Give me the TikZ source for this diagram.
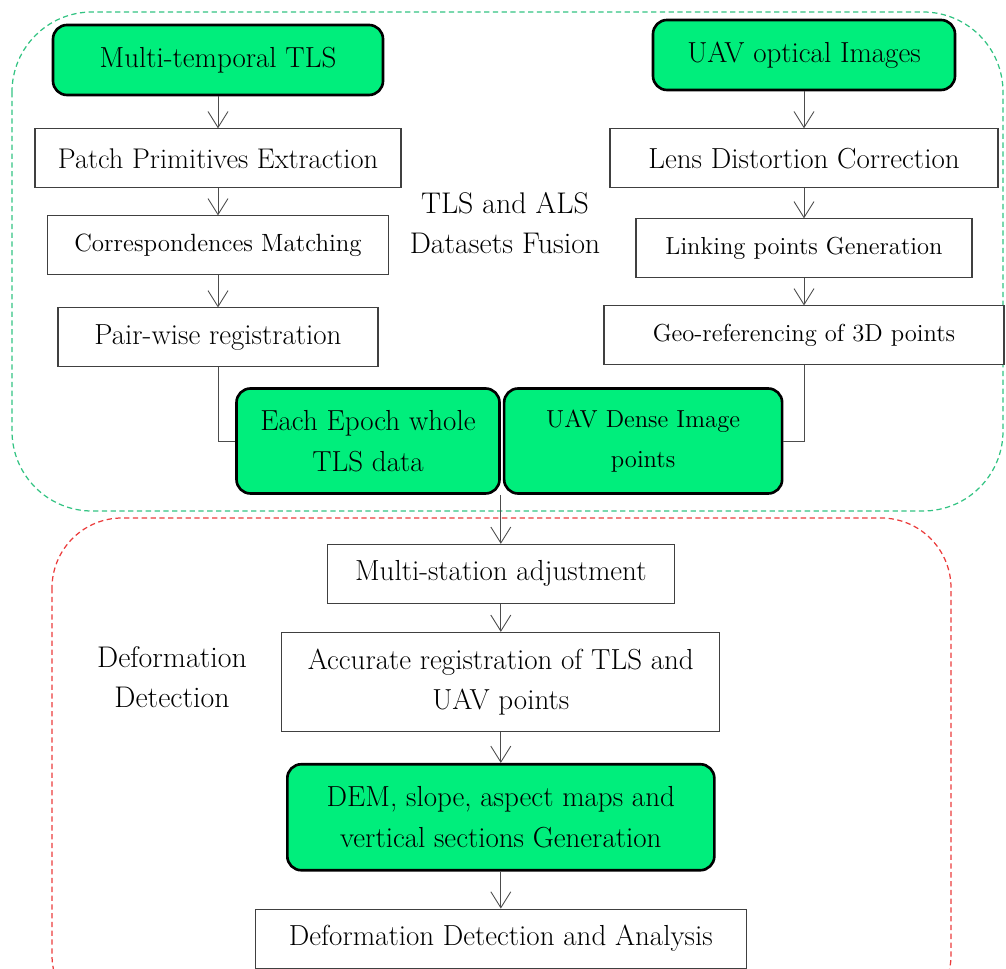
\documentclass[tikz,border=0pt]{standalone}
\usepackage{tikz}
\usetikzlibrary{arrows.meta, positioning, calc}
\definecolor{boxgreen}{RGB}{0,238,124}
\definecolor{fusegreen}{RGB}{50,195,130}
\definecolor{detred}{RGB}{235,60,60}
\tikzset{
  srcbox/.style={rectangle, draw, rounded corners=0.28cm, line width=1.5pt,
    fill=boxgreen, align=center, font=\fontsize{16.5}{23}\selectfont},
  procbox/.style={rectangle, draw=black!75, line width=0.6pt, fill=white,
    minimum height=1.18cm, align=center, font=\fontsize{16.5}{23}\selectfont},
  smallproc/.style={procbox, font=\fontsize{14.2}{23}\selectfont},
  region/.style={dash pattern=on 3pt off 2pt, line width=0.7pt},
  arr/.style={-{Straight Barb[length=3.2mm, width=4mm]}, draw=black!70, line width=0.5pt},
  link/.style={draw=black!70, line width=0.5pt},
}
\begin{document}
\begin{tikzpicture}[node distance=0.6cm]
  \clip (0,0) rectangle (20.12,-19.38);
  \draw[region, fusegreen, rounded corners=1.6cm] (0.24,-0.24) rectangle (20.06,-10.22);
  \draw[region, detred, rounded corners=1.4cm] (1.04,-10.36) rectangle (19.02,-20.5);

  % TLS branch
  \node[srcbox, minimum width=6.6cm, minimum height=1.4cm] (mtls) at (4.36,-1.2) {Multi-temporal TLS};
  \node[procbox, minimum width=7.32cm, below=0.64cm of mtls, font=\fontsize{16.2}{23}\selectfont] (patch) {Patch Primitives Extraction};
  \node[smallproc, minimum width=6.82cm, below=0.54cm of patch] (corr) {Correspondences Matching};
  \node[procbox, minimum width=6.4cm, below=0.64cm of corr] (pair) {Pair-wise registration};

  % UAV branch
  \node[srcbox, minimum width=6.04cm, minimum height=1.4cm] (uav) at (16.08,-1.1) {UAV optical Images};
  \node[procbox, minimum width=7.76cm, below=0.74cm of uav] (lens) {Lens Distortion Correction};
  \node[smallproc, minimum width=6.72cm, below=0.6cm of lens, font=\fontsize{14}{23}\selectfont] (linkpts) {Linking points Generation};
  \node[smallproc, minimum width=8cm, below=0.54cm of linkpts, font=\fontsize{14}{23}\selectfont] (georef) {Geo-referencing of 3D points};

  % fused data
  \node[srcbox, minimum width=5.26cm, minimum height=2.1cm] (epoch) at (7.36,-8.82) {Each Epoch whole\\TLS data};
  \node[srcbox, minimum width=5.56cm, minimum height=2.1cm, right=0.04cm of epoch,
    font=\fontsize{14}{23}\selectfont] (dense) {UAV Dense Image\\points};

  % deformation part
  \node[procbox, minimum width=6.94cm, below=0.98cm of epoch.south east] (mstation) {Multi-station adjustment};
  \node[procbox, minimum width=8.76cm, minimum height=1.98cm, below=0.56cm of mstation] (accur) {Accurate registration of TLS and\\UAV points};
  \node[srcbox, minimum width=8.54cm, minimum height=2.12cm, below=0.62cm of accur] (dem) {DEM, slope, aspect maps and\\vertical sections Generation};
  \node[procbox, minimum width=9.82cm, below=0.74cm of dem] (deform) {Deformation Detection and Analysis};

  \node[align=center, font=\fontsize{17}{23}\selectfont] (fusion) at (10.1,-4.46) {TLS and ALS\\Datasets Fusion};
  \node[align=center, font=\fontsize{17}{23}\selectfont] (ddetect) at (3.44,-13.54) {Deformation\\Detection};

  \draw[arr] (mtls) -- (patch);
  \draw[arr] (patch) -- (corr);
  \draw[arr] (corr) -- (pair);
  \draw[arr] (uav) -- (lens);
  \draw[arr] (lens) -- (linkpts);
  \draw[arr] (linkpts) -- (georef);
  \draw[link] (pair.south) |- (epoch.west);
  \draw[link] (dense.east) -| (georef.south);
  \draw[arr] (epoch.south east) -- (mstation);
  \draw[arr] (mstation) -- (accur);
  \draw[arr] (accur) -- (dem);
  \draw[arr] (dem) -- (deform);
\end{tikzpicture}
\end{document}
